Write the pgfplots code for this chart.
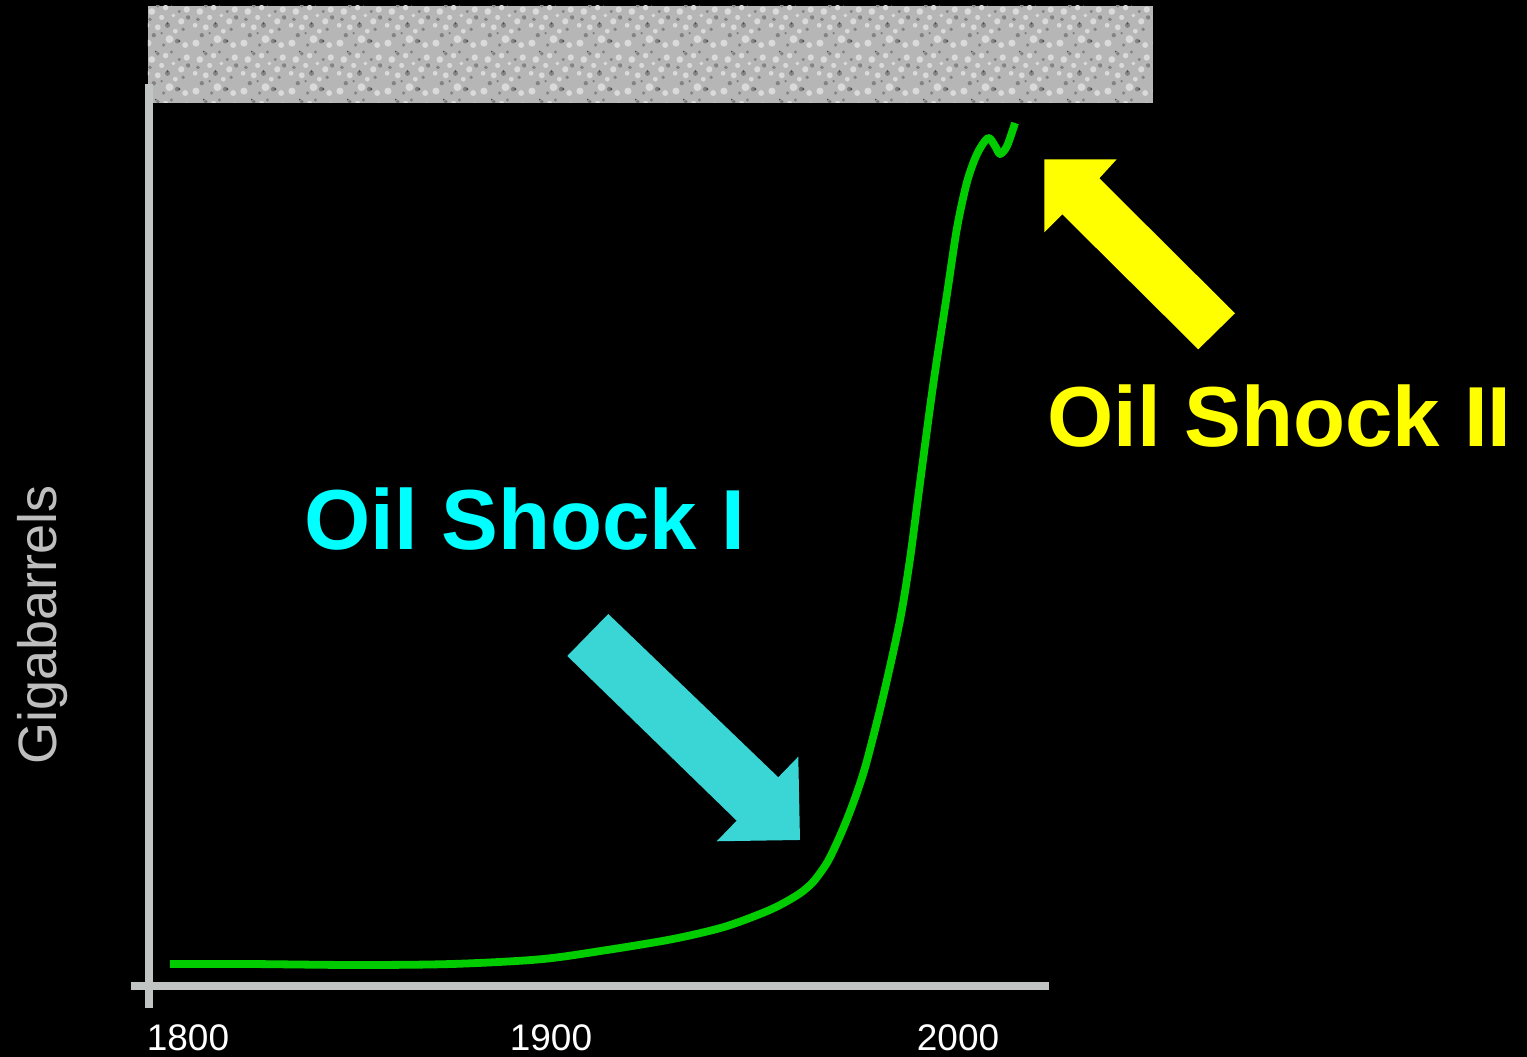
\documentclass[border=0pt]{standalone}
\usepackage{fontspec}
\setmainfont{Liberation Sans}
\usepackage{pgfplots}
\pgfplotsset{compat=1.18}
\usetikzlibrary{patterns}
\definecolor{axisgray}{RGB}{192,196,194}
\definecolor{curvegreen}{RGB}{0,204,0}
\definecolor{arrowcyan}{RGB}{58,214,214}
\definecolor{textcyan}{RGB}{0,255,255}
\definecolor{shockyellow}{RGB}{255,255,0}
\definecolor{labelgray}{RGB}{190,190,190}
\definecolor{texmid}{RGB}{182,182,182}
\definecolor{texlight}{RGB}{218,218,218}
\definecolor{texdark}{RGB}{132,132,132}
\definecolor{texvdark}{RGB}{80,80,80}
\newcommand\blob[3]{\pgfpathcircle{\pgfpoint{#1bp}{#2bp}}{#3bp}}
\pgfdeclarepatterninherentlycolored{noise}{\pgfpointorigin}{\pgfpoint{24bp}{24bp}}{\pgfpoint{24bp}{24bp}}{%
  \pgfsetfillcolor{texlight}%
  \blob{2}{3}{1.8}\blob{7}{11}{1.5}\blob{13}{5}{2}\blob{19}{14}{1.6}\blob{4}{19}{1.7}\blob{11}{21}{1.4}%
  \blob{21}{2}{1.5}\blob{16}{9}{1.2}\blob{9}{16}{1.3}\blob{21.8}{20}{1.6}\blob{1.6}{12}{1.2}\blob{15}{17}{1.0}%
  \pgfusepath{fill}%
  \pgfsetfillcolor{texdark}%
  \blob{5}{7}{1.1}\blob{10}{2}{0.9}\blob{17}{4}{1.2}\blob{3}{15}{1.0}\blob{12}{12}{1.3}\blob{20}{10}{0.9}%
  \blob{7}{22}{1.0}\blob{14}{22.8}{0.8}\blob{22.5}{16}{1.1}\blob{18}{19}{0.8}\blob{9}{8}{0.7}%
  \pgfusepath{fill}%
  \pgfsetfillcolor{texvdark}%
  \blob{12}{13}{0.6}\blob{18}{4}{0.6}\blob{6}{23}{0.5}%
  \pgfusepath{fill}%
}
\begin{document}
\begin{tikzpicture}
\fill[black] (0,0) rectangle (763.5bp,528.5bp);
\path[use as bounding box] (0,0) rectangle (763.5bp,528.5bp);
\begin{scope}[shift={(0bp,528.5bp)}, x=0.5bp, y=-0.5bp]
  \fill[texmid] (148,6) rectangle (1153,103);
  \fill[pattern=noise] (148,6) rectangle (1153,103);
\end{scope}
\begin{axis}[
  at={(65.5bp,24.5bp)}, anchor=south west,
  scale only axis, width=459bp, height=462bp,
  xmin=1785.19, xmax=2023.78, ymin=-0.733, ymax=30.067,
  axis line style={draw=none},
  clip=false,
  xtick={1800,1894.35,2000.13},
  xticklabels={1800,1900,2000},
  ytick=\empty,
  major tick length=0pt,
  xtick pos=bottom,
  /pgf/number format/assume math mode=true,
  xticklabel style={font=\fontsize{18.5bp}{18.5bp}\selectfont, text=white, anchor=north, inner sep=0pt, yshift=-8bp},
  ylabel={Gigabarrels},
  ylabel style={at={(axis description cs:-0.0817,0.415)}, anchor=base, font=\fontsize{27bp}{27bp}\selectfont, text=labelgray, inner sep=0pt},
]
\draw[axisgray, line width=4bp] (axis cs:1785.19,0) -- (axis cs:2023.78,0);
\draw[axisgray, line width=4bp] (axis cs:1789.99,30.067) -- (axis cs:1789.99,-0.733);
\addplot[curvegreen, line width=3.9bp, smooth, tension=0.5, line cap=butt, line join=round] coordinates {
(1795.32,0.733)
(1816.11,0.733)
(1843.40,0.700)
(1868.36,0.733)
(1891.49,0.890)
(1908.90,1.200)
(1926.06,1.567)
(1939.05,1.957)
(1948.67,2.400)
(1953.87,2.700)
(1959.06,3.090)
(1962.52,3.477)
(1966.00,4.090)
(1968.60,4.757)
(1971.20,5.533)
(1973.80,6.423)
(1976.40,7.477)
(1980.64,9.633)
(1985.06,12.200)
(1987.65,14.233)
(1990.25,16.767)
(1993.63,20.000)
(1997.27,23.067)
(1999.87,25.267)
(2002.47,26.800)
(2005.07,27.733)
(2007.93,28.267)
(2009.75,28.000)
(2011.05,27.733)
(2012.87,28.000)
(2014.95,28.767)
};
\end{axis}
\begin{scope}[shift={(0bp,528.5bp)}, x=0.5bp, y=-0.5bp]
  \fill[arrowcyan] (608.3,614) -- (778.3,777.3) -- (798.3,756.7) -- (800,840) -- (716.7,841.3) -- (736.7,820.7) -- (567.3,656) -- cycle;
  \fill[shockyellow] (1044.3,159.3) -- (1116.7,159.3) -- (1099.3,178.3) -- (1235,313.3) -- (1198.3,349.3) -- (1062.3,214.3) -- (1044.3,232.3) -- cycle;
  \node[anchor=base west, inner sep=0pt, text=textcyan, font=\fontsize{42.6bp}{42.6bp}\bfseries\selectfont] at (304,550) {Oil Shock I};
  \node[anchor=base west, inner sep=0pt, text=shockyellow, font=\fontsize{42.6bp}{42.6bp}\bfseries\selectfont] at (1047,447) {Oil Shock II};
\end{scope}
\end{tikzpicture}
\end{document}
